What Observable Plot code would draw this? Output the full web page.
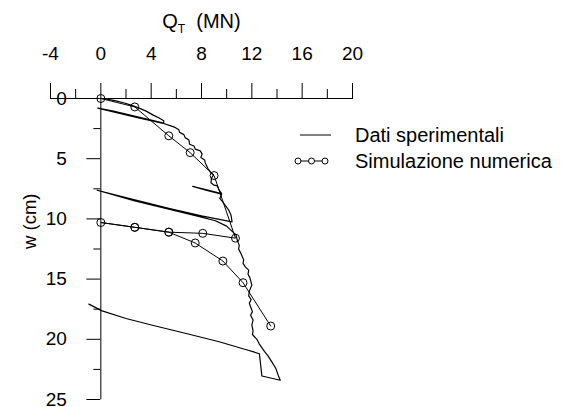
<!DOCTYPE html>
<html><head><meta charset="utf-8">
<script src="https://cdn.jsdelivr.net/npm/d3@7"></script>
<script src="https://cdn.jsdelivr.net/npm/@observablehq/plot@0.6"></script>
<style>
body{margin:0;background:#fff;}
#chart{position:relative;width:565px;height:407px;}
</style></head><body><div id="chart"></div>
<script>
// tick values
const xMajor = [-4, 0, 4, 8, 12, 16, 20];
const xMinor = [-2, 2, 6, 10, 14, 18];
const yMajor = [0, 5, 10, 15, 20, 25];
const yMinor = [2.5, 7.5, 12.5, 17.5, 22.5];

// experimental record (Q_T in MN, w in cm)
const expQ = [0, 0.6, 1.2, 1.8, 2.4, 3.0, 3.6, 4.2, 4.6, 5.0, 5.0,
  3.0, 1.0, -0.24,
  1.0, 3.0, 5.05,
  5.5, 5.9, 6.2, 6.25, 6.6, 6.7, 7.0, 7.05, 7.4, 7.5, 7.9, 8.05, 7.95, 8.25, 8.3, 8.5, 8.7, 8.95, 8.8, 8.75, 9.0, 9.25, 9.4, 9.6,
  8.5, 7.3,
  8.5, 9.6,
  9.45, 9.7, 9.9, 10.15, 10.35, 10.43,
  8.0, 5.4, 2.7, -0.29,
  2.7, 5.4, 8.0, 9.1, 10.0, 10.75,
  10.85, 11.0, 10.95, 11.1, 11.35, 11.3, 11.5, 11.75, 11.7, 11.85, 12.0, 11.8, 11.75, 11.95, 11.8, 11.9, 12.05, 11.9, 12.1, 12.0, 12.1, 12.05,
  12.4, 12.6, 13.0, 13.3, 13.6, 13.9, 14.1, 14.26,
  12.8, 12.6, 12.15, 11.5, 9.4, 6.7, 4.1, 2.0, 0.1, -0.95];
const expW = [0, 0.08, 0.2, 0.35, 0.55, 0.78, 1.05, 1.4, 1.6, 1.85, 2.05,
  1.55, 1.05, 0.8,
  1.12, 1.62, 2.1,
  2.25, 2.4, 2.6, 2.8, 3.0, 3.25, 3.45, 3.8, 3.95, 4.2, 4.35, 4.6, 4.9, 5.1, 5.35, 5.8, 6.1, 6.35, 6.6, 7.0, 7.2, 7.25, 7.6, 7.9,
  7.6, 7.3,
  7.65, 7.95,
  8.3, 8.6, 8.9, 9.25, 9.7, 10.25,
  9.75, 9.12, 8.42, 7.62,
  8.5, 9.2, 9.85, 10.15, 10.6, 11.35,
  11.8, 12.2, 12.5, 12.8, 13.4, 13.7, 14.0, 14.25, 14.6, 14.9, 15.5, 16.0, 16.4, 16.7, 17.0, 17.3, 17.7, 18.0, 18.4, 18.8, 19.3, 19.6,
  20.0, 20.4, 21.0, 21.4, 21.9, 22.4, 23.0, 23.4,
  23.05, 21.2, 21.05, 20.85, 20.2, 19.5, 18.83, 18.27, 17.64, 17.08];

// numerical simulation
const simQ = [0, 2.7, 5.4, 7.1, 9.0, 10.7, 8.1, 5.4, 2.7, 0, 2.7, 5.4, 7.5, 9.7, 11.3, 13.5];
const simW = [0, 0.7, 3.1, 4.5, 6.4, 11.6, 11.2, 11.1, 10.7, 10.3, 10.7, 11.1, 12.0, 13.5, 15.3, 18.9];

const xTitleMain = "Q";
const xTitleSub = "T";
const xTitleUnit = "(MN)";
const yTitle = "w (cm)";
const legendLabels = ["Dati sperimentali", "Simulazione numerica"];

const expData = expQ.map((q, i) => ({q, w: expW[i]}));
const simData = simQ.map((q, i) => ({q, w: simW[i]}));
const xTitleFull = xTitleMain + xTitleSub + "  " + xTitleUnit;

const FONT = "'Liberation Sans', Arial, Helvetica, sans-serif";

const plot = Plot.plot({
  width: 565, height: 407,
  marginLeft: 50, marginRight: 213, marginTop: 98, marginBottom: 8,
  style: {fontFamily: FONT, fontSize: "19px", background: "white", color: "black", overflow: "visible"},
  x: {domain: [-4, 20]},
  y: {domain: [0, 25], reverse: true},
  marks: [
    Plot.ruleY([0], {stroke: "black"}),
    Plot.ruleX([0], {stroke: "black"}),
    Plot.axisX({anchor: "top", ticks: xMajor, tickSize: 16, tickPadding: 23, label: null, tickFormat: d => String(d)}),
    Plot.axisX({anchor: "top", ticks: xMinor, tickSize: 10, tickFormat: () => "", label: null}),
    Plot.axisY({x: 0, anchor: "left", ticks: yMajor, tickSize: 14, tickPadding: 20, label: null, tickFormat: d => String(d)}),
    Plot.axisY({x: 0, anchor: "left", ticks: yMinor, tickSize: 7, tickFormat: () => "", label: null}),
    Plot.line(expData, {x: "q", y: "w", stroke: "black", strokeWidth: 1.2}),
    Plot.line(simData, {x: "q", y: "w", stroke: "black", strokeWidth: 1}),
    Plot.dot(simData, {x: "q", y: "w", r: 4, stroke: "black", fill: "none", strokeWidth: 1}),
    Plot.text([yTitle], {frameAnchor: "left", rotate: -90, dx: -20, fontSize: 18.5}),
    Plot.text([xTitleFull], {frameAnchor: "top", lineAnchor: "middle", dy: -77, fontSize: 20})
  ]
});

// subscript in the x title
d3.select(plot).selectAll("text").each(function() {
  if (this.textContent === xTitleFull) {
    const t = d3.select(this);
    t.text(null);
    t.append("tspan").text(xTitleMain);
    t.append("tspan").attr("font-size", 12).attr("dy", 5).text(xTitleSub);
    t.append("tspan").attr("dy", -5).text("\u00a0\u00a0" + xTitleUnit);
  }
});

// legend
const g = d3.select(plot).append("g").attr("font-family", FONT).attr("font-size", 20).attr("fill", "black").attr("text-anchor", "start");
g.append("line").attr("x1", 300).attr("x2", 331).attr("y1", 135).attr("y2", 135).attr("stroke", "black").attr("stroke-width", 1);
g.append("text").attr("x", 355).attr("y", 135).attr("dy", "0.35em").text(legendLabels[0]);
g.append("line").attr("x1", 298).attr("x2", 325).attr("y1", 161).attr("y2", 161).attr("stroke", "black").attr("stroke-width", 1);
[298, 311.5, 325].forEach(cx => g.append("circle").attr("cx", cx).attr("cy", 161).attr("r", 3).attr("fill", "white").attr("stroke", "black"));
g.append("text").attr("x", 355).attr("y", 161).attr("dy", "0.35em").text(legendLabels[1]);

document.getElementById("chart").appendChild(plot);
</script></body></html>
